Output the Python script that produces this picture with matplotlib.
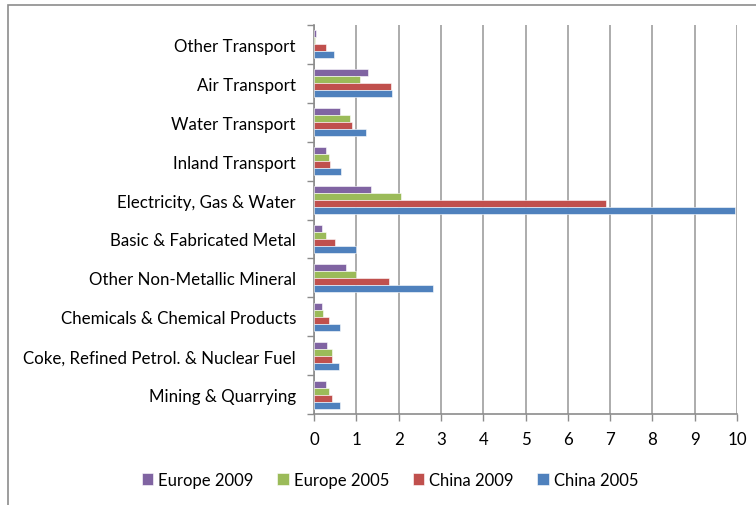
import matplotlib.pyplot as plt
import numpy as np

categories = ["Mining & Quarrying", "Coke, Refined Petrol. & Nuclear Fuel",
              "Chemicals & Chemical Products", "Other Non-Metallic Mineral",
              "Basic & Fabricated Metal", "Electricity, Gas & Water",
              "Inland Transport", "Water Transport", "Air Transport", "Other Transport"]

europe_2009 = [0.28, 0.31, 0.18, 0.75, 0.18, 1.35, 0.28, 0.61, 1.28, 0.05]
europe_2005 = [0.35, 0.42, 0.21, 1.00, 0.28, 2.05, 0.35, 0.84, 1.08, 0.03]
china_2009 = [0.42, 0.42, 0.35, 1.78, 0.49, 6.90, 0.38, 0.91, 1.81, 0.28]
china_2005 = [0.61, 0.58, 0.61, 2.81, 1.00, 9.95, 0.65, 1.24, 1.85, 0.48]

series = [("Europe 2009", europe_2009, "#8064A2"),
          ("Europe 2005", europe_2005, "#9BBB59"),
          ("China 2009", china_2009, "#C0504D"),
          ("China 2005", china_2005, "#4F81BD")]

plt.rcParams['font.family'] = ['Lato', 'DejaVu Sans']

fig = plt.figure(figsize=(7.56, 5.06), dpi=100)
ax = fig.add_axes([314/756, 1-415/506, 423/756, 389/506])

# outer chart border (only left and top visible in the crop)
fig.patches.append(plt.Rectangle((8/756, -0.05), 1.1, 1-6/506+0.05, transform=fig.transFigure,
                                 fill=False, edgecolor="#8C8C8C", linewidth=1.2))

y = np.arange(len(categories))
h = 0.18
for i, (name, vals, col) in enumerate(series):
    offs = (1.5 - i) * h
    ax.barh(y + offs, vals, height=h, color=col, edgecolor="white", linewidth=0.4,
            label=name, zorder=3)

ax.set_xlim(0, 10)
ax.set_ylim(-0.5, len(categories) - 0.5)
ax.set_xticks(range(0, 11))
ax.set_yticks(y)
ax.set_yticklabels(categories, fontsize=12.2)
ax.set_yticks(np.arange(-0.5, len(categories)), minor=True)
ax.tick_params(axis='y', which='major', length=0, pad=13)
ax.tick_params(axis='y', which='minor', length=5, color="#8C8C8C", width=1)
ax.tick_params(axis='x', length=5, color="#8C8C8C", width=1, labelsize=12.2, pad=7)
ax.grid(axis='x', color="#A6A6A6", linewidth=1.3, zorder=0)

for s in ['top', 'right']:
    ax.spines[s].set_visible(False)
for s in ['left', 'bottom']:
    ax.spines[s].set_color("#8C8C8C")
    ax.spines[s].set_linewidth(1.2)

fig.legend(loc='center', bbox_to_anchor=(390/756, 1-481/506), ncol=4, frameon=False,
           fontsize=12, handlelength=0.7, handleheight=0.7, handletextpad=0.3,
           columnspacing=1.4)

fig.savefig("out.png", dpi=100)
